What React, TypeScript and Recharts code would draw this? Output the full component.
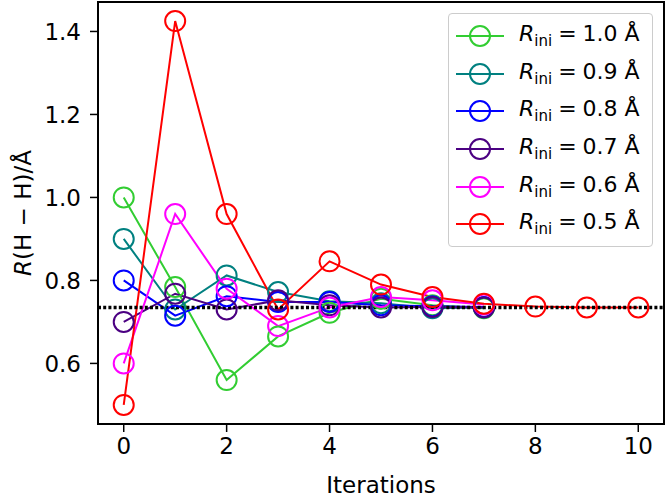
import React from "react"
import { ComposedChart, Line, XAxis, YAxis, ReferenceLine, ReferenceArea } from "recharts"

const iterations = [0, 1, 2, 3, 4, 5, 6, 7, 8, 9, 10]

// one array per initial distance; shorter runs converged earlier
const r10 = [1.0, 0.784, 0.56, 0.665, 0.722, 0.756, 0.74, 0.733]
const r09 = [0.9, 0.73, 0.812, 0.772, 0.75, 0.745, 0.733, 0.735]
const r08 = [0.8, 0.715, 0.762, 0.748, 0.748, 0.74, 0.738, 0.736]
const r07 = [0.7, 0.768, 0.73, 0.752, 0.74, 0.735, 0.736, 0.735]
const r06 = [0.6, 0.96, 0.78, 0.69, 0.735, 0.76, 0.752, 0.742]
const r05 = [0.5, 1.425, 0.96, 0.73, 0.846, 0.79, 0.76, 0.744, 0.737, 0.735, 0.735]

const reference = 0.735
const yTicks = [0.6, 0.8, 1.0, 1.2, 1.4]
const xTicks = [0, 2, 4, 6, 8, 10]

const series = [
  { key: "r10", label: "1.0", color: "#32cd32", values: r10 },
  { key: "r09", label: "0.9", color: "#008080", values: r09 },
  { key: "r08", label: "0.8", color: "#0000ff", values: r08 },
  { key: "r07", label: "0.7", color: "#4b0082", values: r07 },
  { key: "r06", label: "0.6", color: "#ff00ff", values: r06 },
  { key: "r05", label: "0.5", color: "#ff0000", values: r05 },
]

const data = iterations.map((it, i) => {
  const row: Record<string, number | undefined> = { it }
  series.forEach((s) => {
    row[s.key] = s.values[i]
  })
  return row
})

const font = "'DejaVu Sans', sans-serif"

function YLabel(props: any) {
  const vb = props.viewBox || { y: 2, height: 422 }
  const cy = vb.y + vb.height / 2
  return (
    <text transform={`translate(31, ${cy}) rotate(-90)`} textAnchor="middle" fontSize={23} fontFamily={font} fill="#000">
      <tspan fontStyle="italic">R</tspan>
      <tspan>(H − H)/Å</tspan>
    </text>
  )
}

function LegendBox() {
  return (
    <div
      style={{
        position: "absolute",
        left: 448,
        top: 13,
        border: "1.5px solid #cccccc",
        borderRadius: 4,
        background: "rgba(255,255,255,0.85)",
        padding: "3px 0",
        width: 205,
        boxSizing: "border-box",
        fontFamily: font,
        fontSize: 22,
        color: "#000",
      }}
    >
      {series.map((s) => (
        <div key={s.key} style={{ display: "flex", alignItems: "center", height: 37.7 }}>
          <svg width={64} height={30} style={{ marginLeft: 6, flex: "none" }}>
            <line x1={1} y1={15} x2={49} y2={15} stroke={s.color} strokeWidth={2} />
            <circle cx={25} cy={15} r={10} fill="none" stroke={s.color} strokeWidth={2} />
          </svg>
          <span style={{ whiteSpace: "nowrap", lineHeight: 1 }}>
            <span style={{ fontStyle: "italic" }}>R</span>
            <sub style={{ fontSize: 15, verticalAlign: -5 }}>ini</sub>
            <span style={{ margin: "0 6px" }}>=</span>
            {s.label} Å
          </span>
        </div>
      ))}
    </div>
  )
}

export default function App() {
  return (
    <div style={{ position: "fixed", left: 0, top: 0, width: 666, height: 498, background: "#fff" }}>
      <ComposedChart width={666} height={498} data={data} margin={{ top: 2, right: 2, left: 0, bottom: 0 }}>
        <XAxis
          dataKey="it"
          type="number"
          domain={[-0.5, 10.5]}
          ticks={xTicks}
          allowDataOverflow
          height={74}
          tickSize={8}
          tickMargin={6}
          stroke="#000"
          tick={{ fill: "#000", fontSize: 23, fontFamily: font }}
          axisLine={{ stroke: "#000", strokeWidth: 2 }}
          tickLine={{ stroke: "#000", strokeWidth: 1.5 }}
          label={{ value: "Iterations", position: "insideBottom", offset: 5, fontSize: 23, fontFamily: font, fill: "#000" }}
        />
        <YAxis
          type="number"
          domain={[0.454, 1.471]}
          ticks={yTicks}
          allowDataOverflow
          width={98}
          tickSize={8}
          tickMargin={9}
          tickFormatter={(v: number) => v.toFixed(1)}
          stroke="#000"
          tick={{ fill: "#000", fontSize: 23, fontFamily: font }}
          axisLine={{ stroke: "#000", strokeWidth: 2 }}
          tickLine={{ stroke: "#000", strokeWidth: 1.5 }}
          label={<YLabel />}
        />
        <ReferenceArea x1={-0.5} x2={10.5} y1={0.454} y2={1.471} fill="none" stroke="#000" strokeWidth={2} ifOverflow="visible" />
        {series.map((s) => (
          <Line
            key={s.key}
            dataKey={s.key}
            stroke={s.color}
            strokeWidth={2}
            dot={{ r: 10, fill: "none", stroke: s.color, strokeWidth: 2 }}
            activeDot={false}
            isAnimationActive={false}
          />
        ))}
        <ReferenceLine y={reference} stroke="#000" strokeWidth={3.5} strokeDasharray="3 2.2" ifOverflow="visible" />
      </ComposedChart>
      <LegendBox />
    </div>
  )
}
